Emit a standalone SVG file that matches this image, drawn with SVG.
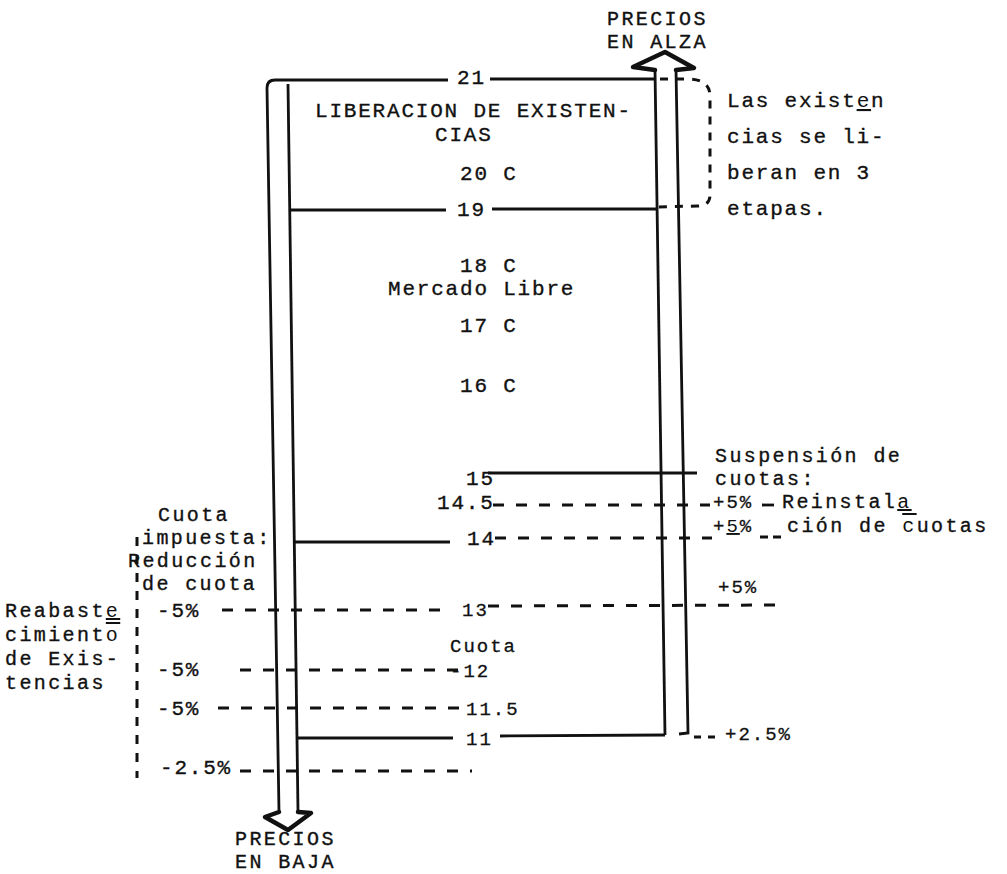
<svg xmlns="http://www.w3.org/2000/svg" width="1007" height="874" viewBox="0 0 1007 874">
<style>
.t{font-family:"Liberation Mono","DejaVu Sans Mono",monospace;font-size:21px;letter-spacing:1.8px;fill:#111;stroke:#111;stroke-width:0.35}
.k{font-family:"Liberation Mono","DejaVu Sans Mono",monospace;font-size:20px;letter-spacing:2.4px;fill:#111;stroke:#111;stroke-width:0.35}
.s{font-family:"Liberation Mono","DejaVu Sans Mono",monospace;font-size:19px;letter-spacing:2px;fill:#111;stroke:#111;stroke-width:0.3}
.ln{fill:none;stroke:#111;stroke-width:2.8;stroke-linecap:butt}
.dl{fill:none;stroke:#111;stroke-width:3;stroke-dasharray:11 12}
.hd{fill:none;stroke:#111;stroke-width:4.5;stroke-linejoin:round;stroke-linecap:round}
.u{text-decoration:underline;stroke:none}
.o{text-decoration:overline;stroke:none}
</style>
<rect width="1007" height="874" fill="#fff"/>
<g id="connectors">
  <path class="ln" d="M279 812 L267 88 Q267 80 275 80 L448 80"/>
  <path class="ln" d="M288 84 L298 812"/>
  <path class="hd" d="M279 812 L265 817 L288 830 L311 813 L298 812"/>
  <path class="ln" d="M655 70 L665 735"/>
  <path class="ln" d="M676 70 L688 733 L679 734"/>
  <path class="hd" d="M655 70 L633 67 L665 52 L694 68 L676 70"/>
  <path class="ln" d="M490 79 L655 79"/>
  <path class="dl" d="M660 79 L690 79 Q710 80 710 96 L710 195 Q710 206 697 206 L658 207" style="stroke-dasharray:8 8"/>
  <path class="ln" d="M289 210 L446 210"/>
  <path class="ln" d="M492 209 L657 209"/>
  <path class="ln" d="M488 473 L697 473"/>
  <path class="dl" d="M493 505 L710 505"/>
  <path class="ln" d="M762 505 L774 505"/>
  <path class="ln" d="M294 542 L450 542"/>
  <path class="dl" d="M495 538 L712 538"/>
  <path class="dl" d="M760 537 L785 537" style="stroke-dasharray:8 5"/>
  <path class="dl" d="M222 610 L452 610"/>
  <path class="dl" d="M488 606 L786 605"/>
  <path class="dl" d="M240 670 L458 670"/>
  <path class="dl" d="M218 708 L462 708"/>
  <path class="ln" d="M298 738 L453 738"/>
  <path class="ln" d="M500 736 L665 735"/>
  <path class="dl" d="M694 737 L720 737" style="stroke-dasharray:7 7"/>
  <path class="dl" d="M240 771 L472 771"/>
  <path class="dl" d="M137 537 L137 778" style="stroke-dasharray:9 9"/>
</g>
<g id="top-label"><text class="k" x="607" y="25">PRECIOS</text><text class="k" x="607" y="48">EN ALZA</text></g>
<g id="bottom-label"><text class="k" x="235" y="845">PRECIOS</text><text class="k" x="235" y="868">EN BAJA</text></g>
<g id="v21"><text class="t" x="457" y="84">21</text></g>
<g id="liberacion"><text class="t" x="315" y="117">LIBERACION DE EXISTEN-</text><text class="t" x="435" y="141">CIAS</text></g>
<g id="v20"><text class="t" x="460" y="180">20 C</text></g>
<g id="v19"><text class="t" x="457" y="216">19</text></g>
<g id="v18"><text class="t" x="460" y="272">18 C</text></g>
<g id="mercado"><text class="t" x="388" y="295">Mercado Libre</text></g>
<g id="v17"><text class="t" x="460" y="332">17 C</text></g>
<g id="v16"><text class="t" x="460" y="392">16 C</text></g>
<g id="v15"><text class="t" x="466" y="485">15</text></g>
<g id="v145"><text class="t" x="437" y="509">14.5</text></g>
<g id="v14"><text class="t" x="467" y="545">14</text></g>
<g id="v13"><text class="s" x="462" y="616">13</text></g>
<g id="cuota-c"><text class="s" x="450" y="652">Cuota</text></g>
<g id="v12"><text class="s" x="450" y="677">-12</text></g>
<g id="v115"><text class="s" x="466" y="715">11.5</text></g>
<g id="v11"><text class="s" x="466" y="745">11</text></g>
<g id="existencias-note">
  <text class="t" x="727" y="107">Las exist<tspan class="u">e</tspan>n</text>
  <text class="t" x="727" y="143">cias se li-</text>
  <text class="t" x="727" y="179">beran en 3</text>
  <text class="t" x="727" y="215">etapas.</text>
</g>
<g id="suspension"><text class="k" x="715" y="462">Suspensión de</text><text class="k" x="715" y="485">cuotas:</text></g>
<g id="reinstalacion">
  <text class="s" x="713" y="508">+5%</text>
  <text class="k" x="782" y="508">Reinstal<tspan class="u">a</tspan></text>
  <text class="s" x="713" y="532">+<tspan class="u">5</tspan>%</text>
  <text class="k" x="787" y="532">ción de <tspan class="o">c</tspan>uotas</text>
</g>
<g id="p13"><text class="s" x="718" y="593">+5%</text></g>
<g id="p11"><text class="s" x="725" y="740">+2.5%</text></g>
<g id="cuota-impuesta">
  <text class="k" x="158" y="521">Cuota</text>
  <text class="k" x="142" y="544">impuesta:</text>
  <text class="k" x="128" y="567">Reducción</text>
  <text class="k" x="142" y="590">de cuota</text>
</g>
<g id="reabastecimiento">
  <text class="k" x="5" y="617">Reabast<tspan class="u">e</tspan></text>
  <text class="k" x="5" y="641">cimient<tspan class="o">o</tspan></text>
  <text class="k" x="5" y="665">de Exis-</text>
  <text class="k" x="5" y="689">tencias</text>
</g>
<g id="m13"><text class="t" x="157" y="617">-5%</text></g>
<g id="m12"><text class="t" x="157" y="676">-5%</text></g>
<g id="m115"><text class="t" x="157" y="715">-5%</text></g>
<g id="m11"><text class="t" x="160" y="774">-2.5%</text></g>
</svg>
